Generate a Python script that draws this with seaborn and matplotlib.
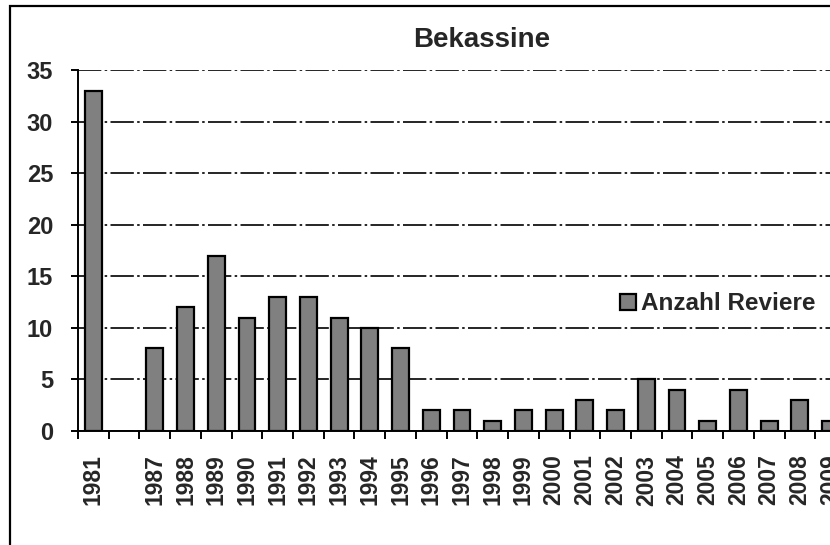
import numpy as np
import pandas as pd
import matplotlib
matplotlib.use('Agg')
import matplotlib.pyplot as plt
from matplotlib.patches import Rectangle
import seaborn as sns

# Data (one empty slot between 1981 and 1987)
years = ['1981', ' ', '1987', '1988', '1989', '1990', '1991', '1992', '1993',
         '1994', '1995', '1996', '1997', '1998', '1999', '2000', '2001', '2002',
         '2003', '2004', '2005', '2006', '2007', '2008', '2009']
counts = [33, np.nan, 8, 12, 17, 11, 13, 13, 11, 10, 8, 2, 2, 1, 2, 2, 3, 2,
          5, 4, 1, 4, 1, 3, 1]
y_ticks = [0, 5, 10, 15, 20, 25, 30, 35]

df = pd.DataFrame({'Jahr': years, 'Anzahl': counts})

sns.set_style('white')
plt.rcParams['font.family'] = ['Liberation Sans', 'DejaVu Sans']
plt.rcParams['font.weight'] = 'bold'

fig = plt.figure(figsize=(8.3, 5.45), dpi=100)
ax = fig.add_axes([78 / 830, 1 - 431 / 545, 768 / 830, 361 / 545])

sns.barplot(data=df, x='Jahr', y='Anzahl', order=years, color='#808080',
            edgecolor='black', linewidth=1.6, width=0.55, saturation=1,
            label='Anzahl Reviere', ax=ax)

ax.set_xlim(-0.5, len(years) - 0.5)
ax.set_ylim(0, 35)
ax.set_yticks(y_ticks)
ax.set_yticklabels([str(t) for t in y_ticks])
ax.set_xlabel('')
ax.set_ylabel('')

# Excel-style category ticks: marks on boundaries, labels at centres
ax.set_xticks(np.arange(-0.5, len(years), 1))
ax.set_xticklabels([])
ax.set_xticks(np.arange(len(years)), minor=True)
ax.set_xticklabels(years, minor=True)
ax.tick_params(axis='x', which='major', direction='out', length=6, width=1.4,
               color='black', bottom=True)
ax.tick_params(axis='x', which='minor', length=0, pad=17, labelrotation=90,
               labelsize=16.5)
ax.tick_params(axis='y', direction='out', length=5, width=1.4, color='black',
               left=True, pad=13, labelsize=17)

ax.yaxis.grid(True, color='black', linewidth=1.2, linestyle=(0, (14, 2, 1.5, 2)))
ax.xaxis.grid(False)
ax.set_axisbelow(True)

for side in ['top', 'right']:
    ax.spines[side].set_visible(False)
for side in ['left', 'bottom']:
    ax.spines[side].set_color('black')
    ax.spines[side].set_linewidth(1.4)

fig.text(482 / 830, 1 - 40 / 545, 'Bekassine', ha='center', va='center',
         fontsize=20, fontweight='bold')

ax.legend(loc='center left', bbox_to_anchor=(620 / 830, 1 - 304 / 545),
          bbox_transform=fig.transFigure, frameon=False, handlelength=0.65,
          handleheight=0.65, handletextpad=0.2, borderpad=0, borderaxespad=0,
          prop={'size': 17.5, 'weight': 'bold'})

# chart area border (right and bottom edges fall outside the image)
fig.patches.append(Rectangle((10 / 830, -0.1), 1.2, 0.1 + 1 - 6 / 545,
                             transform=fig.transFigure, fill=False,
                             edgecolor='black', linewidth=1.6))

fig.savefig('out.png', dpi=100)
